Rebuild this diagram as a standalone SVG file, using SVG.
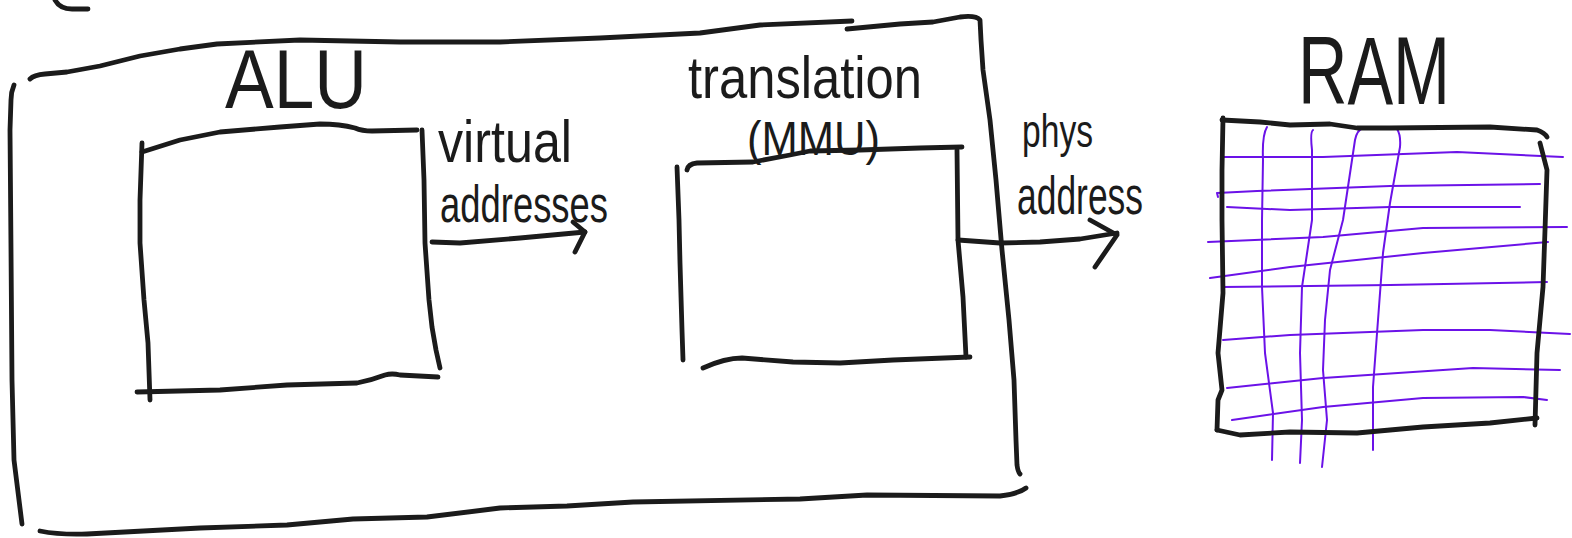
<svg xmlns="http://www.w3.org/2000/svg" width="1572" height="538" viewBox="0 0 1572 538">
<style>
.ink{fill:none;stroke:#1b1b1b;stroke-width:4.8;stroke-linecap:round;stroke-linejoin:round}
.grid{fill:none;stroke:#6b12e8;stroke-width:2;stroke-linecap:round;stroke-linejoin:round}
.lbl{font-family:"Liberation Sans",Arial,sans-serif;fill:#1b1b1b}
</style>
<rect width="1572" height="538" fill="#ffffff"/>
<g id="cpu">
<path class="ink" d="M55,0 Q60,9 72,9 L88,9"/>
<path class="ink" d="M30,79 Q34,75 45,74 L67,72 L100,66 L140,56 L180,49 L217,44 L300,40 L400,42 L500,42 L600,38 L700,33 L760,25 L852,21"/>
<path class="ink" d="M847,29 L900,24 L933,22 L960,17 Q976,15 980,20 L981,40 L983,70 L990,120 L996,180 L1002,250 L1009,320 L1014,380 L1016,440 L1017,465 Q1018,472 1020,474"/>
<path class="ink" d="M14,85 Q11,92 11,100 L10,130 L11,250 L12,380 L14,460 L22,524"/>
<path class="ink" d="M40,531 Q60,535 87,534 L200,528 L287,525 L353,519 L427,517 L500,508 L567,506 L633,502 L800,499 L867,495 L1000,496 Q1018,494 1026,488"/>
<text class="lbl" x="225" y="108" font-size="84" textLength="142" lengthAdjust="spacingAndGlyphs">ALU</text>
</g>
<g id="alu">
<path class="ink" d="M142,152 L180,140 L220,132 L280,127 L320,124 Q340,124 355,128 Q362,131 372,131 L417,130"/>
<path class="ink" d="M422,130 L424,180 L425,243 L429,300 L432,327 L436,350 L440,368"/>
<path class="ink" d="M142,143 L140,200 L140,243 L144,300 L148,343 L150,400"/>
<path class="ink" d="M137,392 L220,390 L287,385 L357,383 Q372,380 385,375 Q392,373 400,375 L438,377"/>
</g>
<g id="mmu">
<path class="ink" d="M687,170 Q688,164 697,163 L753,162 L790,155 L810,151 L860,150 L920,148 L962,147"/>
<path class="ink" d="M957,150 L958,240 L963,297 L966,357"/>
<path class="ink" d="M677,167 L679,220 L680,263 L682,330 L683,360"/>
<path class="ink" d="M703,368 Q725,358 742,358 L793,362 L840,363 L893,360 L970,357"/>
<text class="lbl" x="688" y="98" font-size="60" textLength="234" lengthAdjust="spacingAndGlyphs">translation</text>
<text class="lbl" x="747" y="155" font-size="48" textLength="133" lengthAdjust="spacingAndGlyphs">(MMU)</text>
</g>
<g id="ram">
<path class="grid" d="M1267,127 Q1262,135 1263,160 L1262,220 L1262,287 L1265,353 L1273,413 L1272,460"/>
<path class="grid" d="M1313,130 Q1310,132 1312,150 L1312,220 L1302,287 L1300,353 L1302,420 L1300,463"/>
<path class="grid" d="M1363,128 Q1357,130 1355,140 L1343,220 L1330,270 L1325,320 L1323,370 L1327,420 L1322,467"/>
<path class="grid" d="M1405,128 L1397,129 Q1401,135 1400,147 L1390,203 L1383,253 L1378,320 L1373,387 L1373,450"/>
<path class="grid" d="M1222,157 L1323,157 L1457,152 L1563,157"/>
<path class="grid" d="M1218,197 L1217,193 L1257,191 L1390,186 L1540,184"/>
<path class="grid" d="M1227,207 L1290,210 L1390,207 L1520,207"/>
<path class="grid" d="M1208,242 L1323,237 L1423,228 L1567,227"/>
<path class="grid" d="M1210,278 L1290,267 L1423,253 L1548,242"/>
<path class="grid" d="M1222,287 L1390,285 L1547,282"/>
<path class="grid" d="M1223,340 L1290,335 L1423,330 L1490,330 L1570,334"/>
<path class="grid" d="M1227,388 L1323,378 L1473,368 L1560,370"/>
<path class="grid" d="M1232,420 L1323,407 L1423,398 L1523,397 L1547,400"/>
<path class="ink" d="M1222,120 L1260,122 L1290,125 L1330,124 L1357,128 L1390,128 L1490,127 L1537,130 Q1545,133 1547,137"/>
<path class="ink" d="M1223,118 L1222,170 L1222,220 L1223,293 L1218,353 L1222,390 L1218,400 L1217,430"/>
<path class="ink" d="M1540,143 L1547,170 L1545,230 L1543,287 L1537,353 L1535,425"/>
<path class="ink" d="M1217,430 L1240,435 L1290,432 L1357,433 L1423,427 L1490,423 L1537,418"/>
<text class="lbl" x="1298" y="104" font-size="96" textLength="152" lengthAdjust="spacingAndGlyphs">RAM</text>
</g>
<g id="connectors">
<path class="ink" d="M432,242 L460,243 L520,238 L585,232"/>
<path class="ink" d="M573,222 L585,232 L575,252"/>
<path class="ink" d="M958,240 L1000,243 L1040,242 L1080,239 L1117,233"/>
<path class="ink" d="M1090,220 L1117,235 L1095,267"/>
<text class="lbl" x="438" y="162" font-size="60" textLength="134" lengthAdjust="spacingAndGlyphs">virtual</text>
<text class="lbl" x="440" y="222" font-size="52" textLength="168" lengthAdjust="spacingAndGlyphs">addresses</text>
<text class="lbl" x="1022" y="147" font-size="46" textLength="71" lengthAdjust="spacingAndGlyphs">phys</text>
<text class="lbl" x="1017" y="214" font-size="54" textLength="126" lengthAdjust="spacingAndGlyphs">address</text>
</g>
</svg>
